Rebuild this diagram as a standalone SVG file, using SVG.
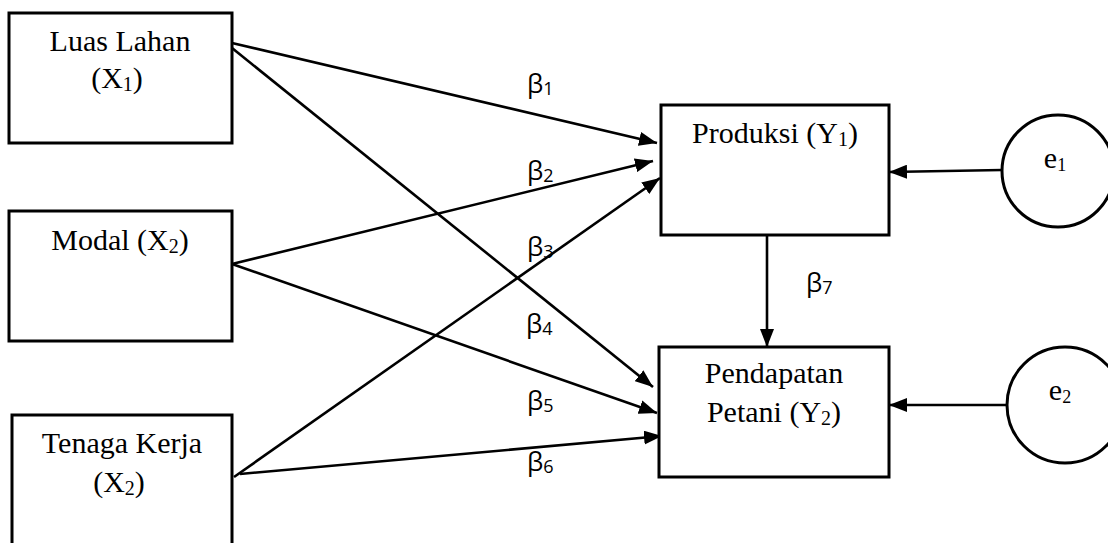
<svg xmlns="http://www.w3.org/2000/svg" width="1108" height="543" viewBox="0 0 1108 543">
<style>
.box{fill:#fff;stroke:#000;stroke-width:3}
.t{font-family:"Liberation Serif","Times New Roman",serif;font-size:30px;fill:#000;text-anchor:middle}
.b{font-family:"Open Sans","Liberation Sans",sans-serif;font-size:26px;fill:#000}
.c{stroke:#000;stroke-width:2.6;fill:none;marker-end:url(#ah)}
</style>
<defs>
<marker id="ah" viewBox="0 0 18 14" refX="18" refY="7" markerWidth="18" markerHeight="14" markerUnits="userSpaceOnUse" orient="auto">
<path d="M0,0 L18,7 L0,14 Z" fill="#000"/>
</marker>
</defs>
<rect width="1108" height="543" fill="#fff"/>
<g id="connectors">
<line class="c" x1="232" y1="43" x2="657" y2="143"/>
<line class="c" x1="232" y1="48" x2="653" y2="387"/>
<line class="c" x1="232" y1="264" x2="653" y2="161"/>
<line class="c" x1="232" y1="264" x2="657" y2="413"/>
<line class="c" x1="234" y1="477" x2="660" y2="178"/>
<line class="c" x1="240" y1="474" x2="662" y2="436"/>
<line class="c" x1="767" y1="235" x2="767" y2="347"/>
<line class="c" x1="1002" y1="170" x2="889" y2="172"/>
<line class="c" x1="1007" y1="405" x2="889" y2="405"/>
</g>
<g id="n-luas">
<rect class="box" x="9" y="13" width="223" height="130"/>
<text class="t" x="120" y="51">Luas Lahan</text>
<text class="t" x="117" y="88">(X<tspan font-size="20" dy="3">1</tspan><tspan dy="-3">)</tspan></text>
</g>
<g id="n-modal">
<rect class="box" x="9" y="211" width="223" height="130"/>
<text class="t" x="120" y="250">Modal (X<tspan font-size="20" dy="3">2</tspan><tspan dy="-3">)</tspan></text>
</g>
<g id="n-tenaga">
<rect class="box" x="12" y="415" width="220" height="140"/>
<text class="t" x="122" y="453">Tenaga Kerja</text>
<text class="t" x="119" y="492">(X<tspan font-size="20" dy="3">2</tspan><tspan dy="-3">)</tspan></text>
</g>
<g id="n-produksi">
<rect class="box" x="661" y="105" width="228" height="130"/>
<text class="t" x="775" y="143">Produksi (Y<tspan font-size="20" dy="3">1</tspan><tspan dy="-3">)</tspan></text>
</g>
<g id="n-pendapatan">
<rect class="box" x="659" y="347" width="230" height="130"/>
<text class="t" x="774" y="383">Pendapatan</text>
<text class="t" x="774" y="422">Petani (Y<tspan font-size="20" dy="3">2</tspan><tspan dy="-3">)</tspan></text>
</g>
<g id="n-e1">
<circle cx="1058" cy="171" r="56" fill="#fff" stroke="#000" stroke-width="3"/>
<text class="t" x="1055" y="168" font-size="26">e<tspan font-size="18" dy="3">1</tspan></text>
</g>
<g id="n-e2">
<circle cx="1065" cy="405" r="58" fill="#fff" stroke="#000" stroke-width="3"/>
<text class="t" x="1060" y="400" font-size="26">e<tspan font-size="18" dy="3">2</tspan></text>
</g>
<g id="labels">
<text class="b" x="527" y="93">β<tspan font-size="18" dy="2">1</tspan></text>
<text class="b" x="527" y="180">β<tspan font-size="18" dy="2">2</tspan></text>
<text class="b" x="527" y="256">β<tspan font-size="18" dy="2">3</tspan></text>
<text class="b" x="526" y="333">β<tspan font-size="18" dy="2">4</tspan></text>
<text class="b" x="527" y="410">β<tspan font-size="18" dy="2">5</tspan></text>
<text class="b" x="527" y="471">β<tspan font-size="18" dy="2">6</tspan></text>
<text class="b" x="806" y="292">β<tspan font-size="18" dy="2">7</tspan></text>
</g>
</svg>
